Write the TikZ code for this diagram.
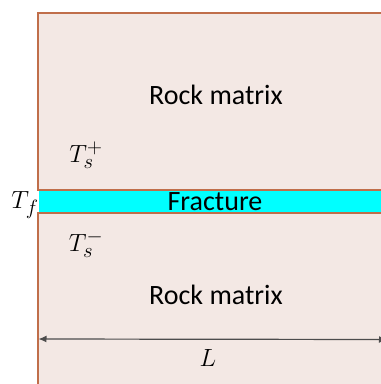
\documentclass[tikz,border=0pt]{standalone}
\usepackage{fontspec}
\setmainfont{Carlito}
\usetikzlibrary{arrows.meta}
\definecolor{rockfill}{HTML}{F3E8E4}
\definecolor{rockline}{HTML}{C06E4A}
\definecolor{fraccyan}{HTML}{00FFFF}
\tikzset{
  matrixbox/.style={fill=rockfill,draw=rockline,line width=2pt},
  label/.style={font=\fontsize{28}{32}\selectfont,inner sep=0pt},
  mathlabel/.style={font=\fontsize{29}{32}\selectfont,inner sep=0pt},
  dimline/.style={draw=black!70,line width=1.2pt,{Latex[length=8pt,width=7pt]}-{Latex[length=8pt,width=7pt]}}
}
\begin{document}
\begin{tikzpicture}[x=1pt,y=-1pt]
\useasboundingbox (0,0) rectangle (381,384);
\clip (0,0) rectangle (381,384);
\fill[white] (0,0) rectangle (381,384);
% upper rock matrix
\draw[matrixbox] (37.5,13) rectangle (420,190);
% lower rock matrix
\draw[matrixbox] (37.5,212.5) rectangle (420,420);
% fracture
\fill[fraccyan] (38.5,191) rectangle (420,211.5);
\node[label] (rm1) at (216,95) {Rock matrix};
\node[label] (rm2) at (216,295) {Rock matrix};
\node[label] (frac) at (215,202) {Fracture};
\node[mathlabel] (tsp) at (86,155) {$T_s^+$};
\node[mathlabel] (tsm) at (86,244) {$T_s^-$};
\node[mathlabel] (tf) at (25,205) {$T_f$};
\coordinate (aL) at (38.5,339);
\coordinate (aR) at (387,339.5);
\draw[dimline] (aL) -- (aR);
\node[mathlabel] (L) at (208,358) {$L$};
\end{tikzpicture}
\end{document}
